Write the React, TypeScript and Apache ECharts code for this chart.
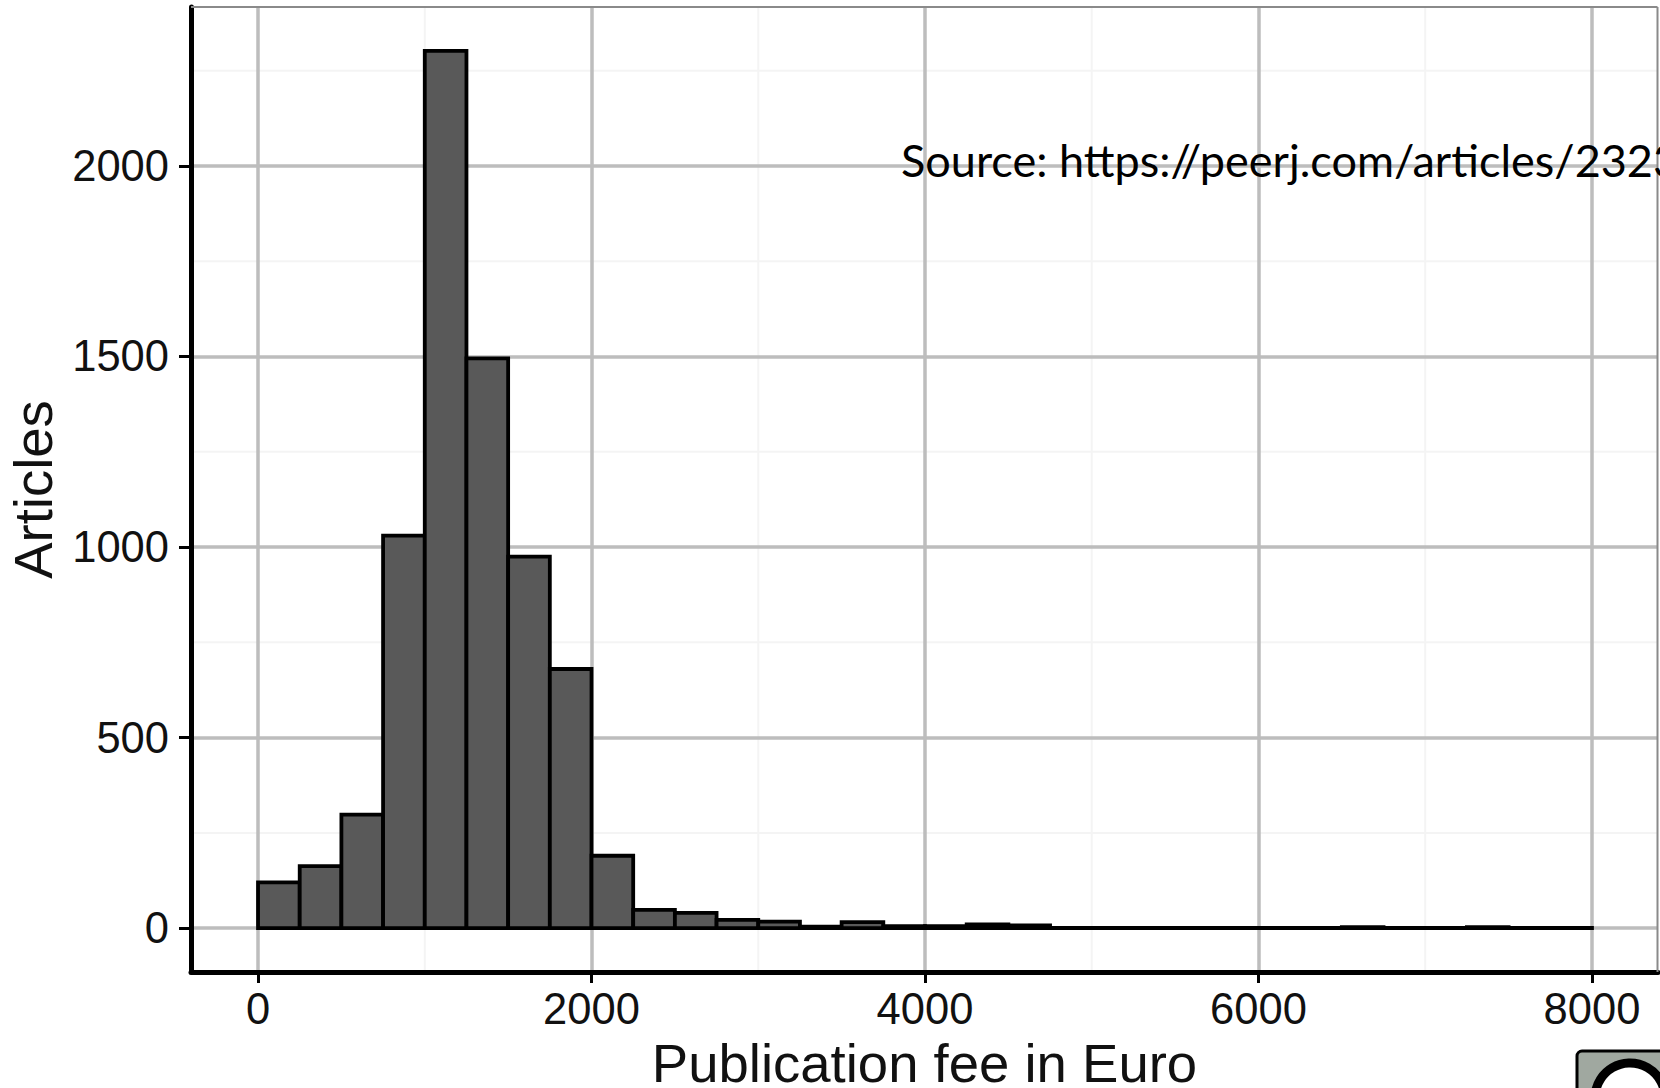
import React, { useEffect, useRef } from "react";
import * as echarts from "echarts";

const binStarts = [0, 250, 500, 750, 1000, 1250, 1500, 1750, 2000, 2250, 2500, 2750, 3000, 3250, 3500, 3750, 4000, 4250, 4500, 4750, 5000, 5250, 5500, 5750, 6000, 6250, 6500, 6750, 7000, 7250, 7500, 7750];
const articleCounts = [120, 163, 298, 1030, 2302, 1495, 975, 680, 190, 48, 40, 22, 17, 4, 16, 5, 5, 10, 7, 1, 1, 1, 1, 1, 1, 1, 3, 1, 1, 3, 1, 1];
const binWidth = 250;
const xTicks = [0, 2000, 4000, 6000, 8000];
const yTicks = [0, 500, 1000, 1500, 2000];
const xMinor = [1000, 3000, 5000, 7000];
const yMinor = [250, 750, 1250, 1750, 2250];
const xRange = [-402, 8396];
const yRange = [-115, 2417];
const xTitle = "Publication fee in Euro";
const yTitle = "Articles";
const sourceNote = "Source: https://peerj.com/articles/2323";

export default function App() {
  const ref = useRef<HTMLDivElement>(null);
  useEffect(() => {
    document.body.style.margin = "0";
    document.body.style.overflow = "hidden";
    const chart = echarts.init(ref.current!, null, { renderer: "svg" });
    const font = "'Liberation Sans', Arial, sans-serif";
    const minorStyle = { stroke: "#f4f4f4", lineWidth: 2 };
    chart.setOption({
      animation: false,
      backgroundColor: "#fff",
      grid: { left: 191, top: 7, right: 2, bottom: 116, containLabel: false, outerBoundsMode: "none" },
      xAxis: {
        type: "value",
        min: xRange[0],
        max: xRange[1],
        name: xTitle,
        nameLocation: "middle",
        nameGap: 60,
        nameTextStyle: { fontFamily: font, fontSize: 54.5, lineHeight: 46, color: "#111" },
        axisLine: { show: true, onZero: false, lineStyle: { color: "#000", width: 5 } },
        axisTick: { show: true, length: 11, customValues: xTicks, lineStyle: { color: "#000", width: 3 } },
        axisLabel: { customValues: xTicks, margin: 15, fontFamily: font, fontSize: 43.5, color: "#111", formatter: (v: number) => String(v), showMinLabel: true, showMaxLabel: true },
        splitLine: { show: true, lineStyle: { color: "#bdbdbd", width: 3.5 } },
      },
      yAxis: {
        type: "value",
        min: yRange[0],
        max: yRange[1],
        name: yTitle,
        nameLocation: "middle",
        nameGap: 128,
        nameTextStyle: { fontFamily: font, fontSize: 54.5, color: "#111" },
        axisLine: { show: true, onZero: false, lineStyle: { color: "#000", width: 5 } },
        axisTick: { show: true, length: 12, customValues: yTicks, lineStyle: { color: "#000", width: 3 } },
        axisLabel: { customValues: yTicks, margin: 22, fontFamily: font, fontSize: 43.5, color: "#111", formatter: (v: number) => String(v) },
        splitLine: { show: true, lineStyle: { color: "#bdbdbd", width: 3.5 } },
      },
      series: [
        {
          type: "custom",
          name: "minor x",
          silent: true,
          z: -1,
          data: xMinor.map((v) => [v]),
          encode: { x: 0 },
          renderItem: (_: any, api: any) => {
            const a = api.coord([api.value(0), yRange[0]]);
            const b = api.coord([api.value(0), yRange[1]]);
            return { type: "line", shape: { x1: a[0], y1: a[1], x2: b[0], y2: b[1] }, style: minorStyle };
          },
        },
        {
          type: "custom",
          name: "minor y",
          silent: true,
          z: -1,
          data: yMinor.map((v) => [v]),
          encode: { y: 0 },
          renderItem: (_: any, api: any) => {
            const a = api.coord([xRange[0], api.value(0)]);
            const b = api.coord([xRange[1], api.value(0)]);
            return { type: "line", shape: { x1: a[0], y1: a[1], x2: b[0], y2: b[1] }, style: minorStyle };
          },
        },
        {
          type: "custom",
          name: yTitle,
          z: 3,
          data: binStarts.map((s, i) => [s, s + binWidth, articleCounts[i]]),
          encode: { x: [0, 1], y: 2 },
          renderItem: (_: any, api: any) => {
            const a = api.coord([api.value(0), api.value(2)]);
            const b = api.coord([api.value(1), 0]);
            return {
              type: "rect",
              shape: { x: a[0], y: a[1], width: b[0] - a[0], height: b[1] - a[1] },
              style: { fill: "#595959", stroke: "#000", lineWidth: 3.8 },
            };
          },
        },
      ],
      graphic: [
        { type: "line", z: 4, shape: { x1: 191, y1: 7, x2: 1657.5, y2: 7 }, style: { stroke: "#8a8a8a", lineWidth: 2 } },
        { type: "line", z: 4, shape: { x1: 1657.5, y1: 7, x2: 1657.5, y2: 972 }, style: { stroke: "#8a8a8a", lineWidth: 2 } },
        { type: "text", z: 10, x: 901, y: 160, style: { text: sourceNote, fontFamily: "Lato, sans-serif", fontSize: 45, fill: "#000", verticalAlign: "middle" } },
        { type: "rect", z: 10, shape: { x: 1577, y: 1051, width: 120, height: 80, r: 5 }, style: { fill: "#a0a8a0", stroke: "#000", lineWidth: 3 } },
        { type: "circle", z: 11, shape: { cx: 1630, cy: 1098, r: 35 }, style: { fill: "#fff", stroke: "#000", lineWidth: 9 } },
      ],
    });
    return () => chart.dispose();
  }, []);
  return <div ref={ref} style={{ width: 1660, height: 1088 }} />;
}
